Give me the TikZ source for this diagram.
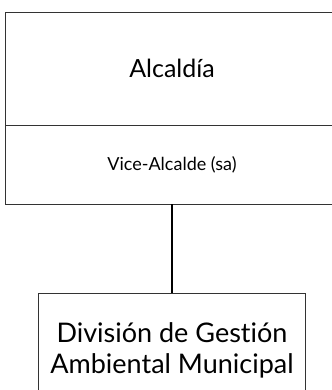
\documentclass[tikz,border=0pt]{standalone}
\usepackage{fontspec}
\setmainfont{Lato}[Ligatures={CommonOff,RareOff}]
\usetikzlibrary{positioning}

\tikzset{
  orgbox/.style={draw=black!80, line width=1bp, rectangle, outer sep=0pt, inner sep=0pt, align=center},
  link/.style={draw=black, line width=1.6bp}
}

\begin{document}
\begin{tikzpicture}[x=1bp, y=-1bp]
    \useasboundingbox (0,0) rectangle (332,390);
    \clip (0,0) rectangle (332,390);

    % Alcaldia block, split in two rows
    \node[orgbox, minimum width=332bp, minimum height=113bp, font=\fontsize{25bp}{29bp}\selectfont] (alcaldia) at (172,68.5) {Alcaldía};
    \node[orgbox, minimum width=332bp, minimum height=79bp, font=\fontsize{18bp}{21bp}\selectfont, below=0pt of alcaldia] (vice) {Vice-Alcalde (sa)};

    % Division block
    \node[orgbox, minimum width=266bp, minimum height=114bp, font=\fontsize{27bp}{31bp}\selectfont, below=89bp of vice] (division) {División de Gestión\\Ambiental Municipal};

    % Connector
    \draw[link] (vice.south) -- (division.north);
\end{tikzpicture}
\end{document}
